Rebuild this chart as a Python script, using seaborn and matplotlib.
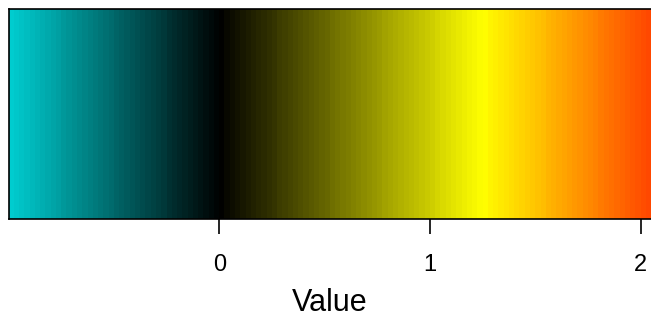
import numpy as np
import pandas as pd
import matplotlib
matplotlib.use("Agg")
import matplotlib.pyplot as plt
from matplotlib.colors import LinearSegmentedColormap
import seaborn as sns

# colour ramp
stop_values = [-1.0, 0.0, 1.25, 2.05]
stop_colors = ["#00CED1", "#000000", "#FFFF00", "#FF4500"]
value_min = -1.0
value_max = 2.06
band_width = 0.025
tick_values = [0, 1, 2]
tick_labels = ["0", "1", "2"]
axis_label = "Value"

sns.set_theme(style="white")
plt.rcParams["font.family"] = ["Liberation Sans", "DejaVu Sans"]

band_values = np.arange(value_min + band_width / 2, value_max, band_width)
df = pd.DataFrame([band_values])

span = 2.05 - value_min
cmap = LinearSegmentedColormap.from_list(
    "ramp", [((v - value_min) / span, c) for v, c in zip(stop_values, stop_colors)]
)

px_per_unit = 210.7
n_cols = len(band_values)
width_px = n_cols * band_width * px_per_unit

fig = plt.figure(figsize=(6.51, 3.30), dpi=100)
ax = fig.add_axes([8.5 / 651, 1 - 219 / 330, width_px / 651, 210 / 330])
sns.heatmap(df, ax=ax, cmap=cmap, vmin=value_min, vmax=2.05,
            cbar=False, xticklabels=False, yticklabels=False)

pos = [(t - value_min) / band_width for t in tick_values]
ax.set_xticks(pos)
ax.set_xticklabels(tick_labels, fontsize=17)
ax.set_yticks([])
ax.tick_params(axis="x", bottom=True, length=11, width=1.2, color="black",
               pad=14, labelcolor="black")
ax.set_xlabel(axis_label, fontsize=22, color="black", labelpad=9)
ax.set_ylabel("")
for name, s in ax.spines.items():
    s.set_visible(name != "right")
    s.set_color("black")
    s.set_linewidth(1.2)

fig.savefig("out.png", dpi=100)
